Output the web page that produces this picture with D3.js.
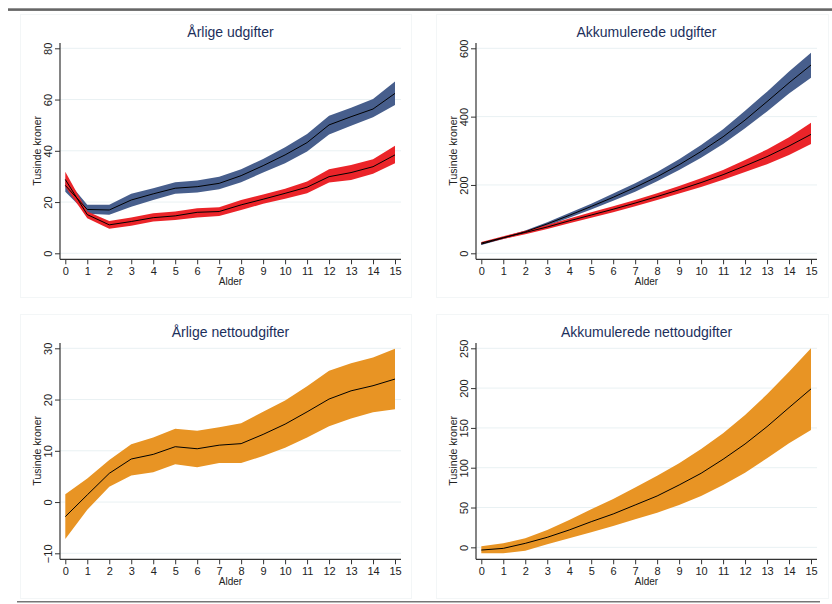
<!DOCTYPE html>
<html>
<head>
<meta charset="utf-8">
<script src="https://cdn.jsdelivr.net/npm/d3@7"></script>
<style>
  html, body { margin: 0; padding: 0; background: #fff; }
  svg { display: block; font-family: "Liberation Sans", Arial, Helvetica, sans-serif; }
</style>
</head>
<body>
<svg id="chart" width="832" height="604"></svg>
<script>
// ---------- DATA ----------
const ages = [0, 1, 2, 3, 4, 5, 6, 7, 8, 9, 10, 11, 12, 13, 14, 15];

const titles = ["Årlige udgifter", "Akkumulerede udgifter", "Årlige nettoudgifter", "Akkumulerede nettoudgifter"];
const yTitle = "Tusinde kroner";
const xTitle = "Alder";

const ticksAnnual = [0, 20, 40, 60, 80];
const ticksAccum = [0, 200, 400, 600];
const ticksNetAnnual = [-10, 0, 10, 20, 30];
const ticksNetAccum = [0, 50, 100, 150, 200, 250];

// Annual expenditures (blue group)
const annBlueMean = [26.5, 17.1, 16.9, 20.8, 23.2, 25.4, 26.0, 27.3, 30.3, 34.2, 38.4, 43.2, 50.1, 53.3, 56.3, 62.4];
const annBlueLo   = [24.0, 15.4, 15.0, 18.2, 20.8, 23.2, 23.7, 25.0, 27.7, 31.5, 35.1, 39.7, 46.4, 49.8, 53.1, 57.9];
const annBlueHi   = [29.2, 18.9, 18.9, 23.2, 25.4, 27.7, 28.4, 29.9, 32.8, 36.8, 41.4, 46.6, 53.7, 56.8, 60.2, 67.0];
// Annual expenditures (red group)
const annRedMean  = [28.8, 15.1, 11.1, 12.4, 13.9, 14.6, 16.0, 16.3, 18.9, 21.1, 23.4, 25.8, 29.9, 31.5, 33.8, 38.4];
const annRedLo    = [26.0, 13.7,  9.6, 10.8, 12.4, 13.0, 14.0, 14.6, 16.9, 19.3, 21.3, 23.4, 27.6, 28.6, 31.0, 35.1];
const annRedHi    = [31.8, 16.3, 12.6, 14.0, 15.6, 16.3, 17.6, 18.0, 20.8, 22.9, 25.2, 28.0, 32.8, 34.5, 36.7, 42.0];

// Accumulated expenditures
const accBlueMean = [27, 45, 63, 86, 111, 137, 164, 193, 224, 259, 298, 341, 390, 444, 499, 551];
const accBlueLo   = [24, 42, 59, 81, 104, 128, 154, 180, 211, 244, 280, 320, 366, 415, 468, 514];
const accBlueHi   = [30, 48, 67, 91, 118, 145, 175, 205, 238, 275, 317, 363, 417, 473, 532, 587];
const accRedMean  = [30, 46, 61, 77, 95, 112, 129, 147, 166, 186, 207, 230, 256, 283, 314, 348];
const accRedLo    = [27, 42, 56, 71, 88, 104, 120, 138, 156, 175, 194, 215, 238, 261, 288, 320];
const accRedHi    = [33, 50, 66, 83, 102, 120, 138, 156, 176, 197, 220, 244, 273, 304, 340, 382];

// Annual net expenditures
const netMean = [-2.85, 1.4, 5.6, 8.4, 9.3, 10.8, 10.4, 11.1, 11.4, 13.2, 15.2, 17.6, 20.1, 21.7, 22.7, 24.0];
const netLo   = [-7.2, -1.5, 3.0, 5.2, 5.8, 7.4, 6.8, 7.6, 7.6, 9.0, 10.6, 12.6, 14.8, 16.3, 17.5, 18.1];
const netHi   = [1.5, 4.6, 8.2, 11.3, 12.6, 14.3, 13.9, 14.6, 15.4, 17.6, 19.8, 22.6, 25.6, 27.1, 28.2, 29.9];

// Accumulated net expenditures
const accNetMean = [-3.4, -1.3, 5, 12.6, 21.8, 32.2, 41.9, 53.2, 64.5, 78.3, 93, 110.6, 129.8, 151.6, 175.5, 199];
const accNetLo   = [-7.5, -7.5, -4.2, 3.8, 11.3, 18.8, 26.8, 35.2, 43.5, 53.2, 64.5, 78.3, 93.8, 111.8, 130.7, 147.4];
const accNetHi   = [1.3, 5, 11.3, 21.8, 34.3, 47.7, 60.7, 75, 90, 105.5, 123.5, 143.2, 166.2, 192.2, 220.7, 250];

// ---------- STYLE ----------
const navy = "#475e8c";
const red = "#eb2429";
const orange = "#e89424";
const titleColor = "#1c2f5c";
const gridColor = "#e9f1f3";

const svg = d3.select("#chart");

// Header / footer rules and faint panel frames
svg.append("rect").attr("x", 8).attr("y", 8.3).attr("width", 824).attr("height", 2.6).attr("fill", "#666");
svg.append("rect").attr("x", 17).attr("y", 601.2).attr("width", 803).attr("height", 1.2).attr("fill", "#555");

const frames = [[20, 14, 391, 283], [436, 14, 392, 283], [20, 314, 391, 284], [436, 314, 392, 284]];
frames.forEach(f => {
  svg.append("rect").attr("x", f[0] + 0.5).attr("y", f[1] + 0.5).attr("width", f[2]).attr("height", f[3])
    .attr("fill", "none").attr("stroke", "#f3f6f7").attr("stroke-width", 1);
});

// ---------- PANELS ----------
const cols = [
  { axisX: 60, right: 401, r0: 65.3, r1: 395 },
  { axisX: 476, right: 817, r0: 481.3, r1: 811 }
];
const rows = [
  { top: 43, bottom: 259.3, rTop: 48.3, rBot: 253.3, titleY: 37 },
  { top: 343, bottom: 559.3, rTop: 348.3, rBot: 553.3, titleY: 337 }
];

const panels = [
  { col: 0, row: 0, title: titles[0], ticks: ticksAnnual, domain: [0, 80],
    bands: [{ lo: annBlueLo, hi: annBlueHi, mean: annBlueMean, color: navy },
            { lo: annRedLo, hi: annRedHi, mean: annRedMean, color: red }] },
  { col: 1, row: 0, title: titles[1], ticks: ticksAccum, domain: [0, 600],
    bands: [{ lo: accBlueLo, hi: accBlueHi, mean: accBlueMean, color: navy },
            { lo: accRedLo, hi: accRedHi, mean: accRedMean, color: red }] },
  { col: 0, row: 1, title: titles[2], ticks: ticksNetAnnual, domain: [-10, 30],
    bands: [{ lo: netLo, hi: netHi, mean: netMean, color: orange }] },
  { col: 1, row: 1, title: titles[3], ticks: ticksNetAccum, domain: [-7.5, 250],
    bands: [{ lo: accNetLo, hi: accNetHi, mean: accNetMean, color: orange }] }
];

panels.forEach(p => {
  const c = cols[p.col], r = rows[p.row];
  const x = d3.scaleLinear().domain([0, 15]).range([c.r0, c.r1]);
  const y = d3.scaleLinear().domain(p.domain).range([r.rBot, r.rTop]);
  const g = svg.append("g");

  // gridlines
  g.append("g").selectAll("line").data(p.ticks).join("line")
    .attr("x1", c.axisX).attr("x2", c.right)
    .attr("y1", d => y(d)).attr("y2", d => y(d))
    .attr("stroke", gridColor).attr("stroke-width", 1);

  // bands
  p.bands.forEach(b => {
    const area = d3.area()
      .x((d, i) => x(ages[i]))
      .y0((d, i) => y(b.lo[i]))
      .y1((d, i) => y(b.hi[i]));
    g.append("path").datum(ages).attr("d", area).attr("fill", b.color).attr("stroke", "none");
  });
  // mean lines
  p.bands.forEach(b => {
    const line = d3.line().x((d, i) => x(ages[i])).y((d, i) => y(b.mean[i]));
    g.append("path").datum(ages).attr("d", line)
      .attr("fill", "none").attr("stroke", "#000").attr("stroke-width", 1);
  });

  // axis lines
  g.append("line").attr("x1", c.axisX).attr("x2", c.axisX).attr("y1", r.top).attr("y2", r.bottom)
    .attr("stroke", "#333").attr("stroke-width", 1.2);
  g.append("line").attr("x1", c.axisX).attr("x2", c.right).attr("y1", r.bottom).attr("y2", r.bottom)
    .attr("stroke", "#333").attr("stroke-width", 1.2);

  // y axis
  const yAxis = d3.axisLeft(y).tickValues(p.ticks).tickSize(5).tickSizeOuter(0).tickFormat(d3.format("d"));
  const ya = g.append("g").attr("transform", `translate(${c.axisX},0)`).call(yAxis);
  ya.select(".domain").remove();
  ya.selectAll(".tick line").attr("stroke", "#333");
  ya.selectAll(".tick text")
    .attr("x", 0).attr("y", -8.3).attr("dy", 0)
    .attr("transform", "rotate(-90)")
    .attr("text-anchor", "middle")
    .attr("fill", "#222").style("font-size", "11px")
    .style("font-family", "'Liberation Sans', Arial, sans-serif");

  // x axis
  const xAxis = d3.axisBottom(x).tickValues(ages).tickSize(5).tickSizeOuter(0).tickPadding(3).tickFormat(d3.format("d"));
  const xa = g.append("g").attr("transform", `translate(0,${r.bottom})`).call(xAxis);
  xa.select(".domain").remove();
  xa.selectAll(".tick line").attr("stroke", "#333");
  xa.selectAll(".tick text").attr("fill", "#222").style("font-size", "11px")
    .style("font-family", "'Liberation Sans', Arial, sans-serif");

  const cx = (c.axisX + c.right) / 2;
  // x title
  g.append("text").attr("x", cx).attr("y", r.bottom + 25.3).attr("text-anchor", "middle")
    .attr("fill", "#222").style("font-size", "10px").text(xTitle);
  // y title
  const cy = (r.rTop + r.rBot) / 2;
  g.append("text").attr("transform", `translate(${c.axisX - 19.5},${cy}) rotate(-90)`)
    .attr("text-anchor", "middle").attr("fill", "#222").style("font-size", "10.5px").text(yTitle);
  // panel title
  g.append("text").attr("x", cx).attr("y", r.titleY).attr("text-anchor", "middle")
    .attr("fill", titleColor).style("font-size", "14px").text(p.title);
});
</script>
</body>
</html>
